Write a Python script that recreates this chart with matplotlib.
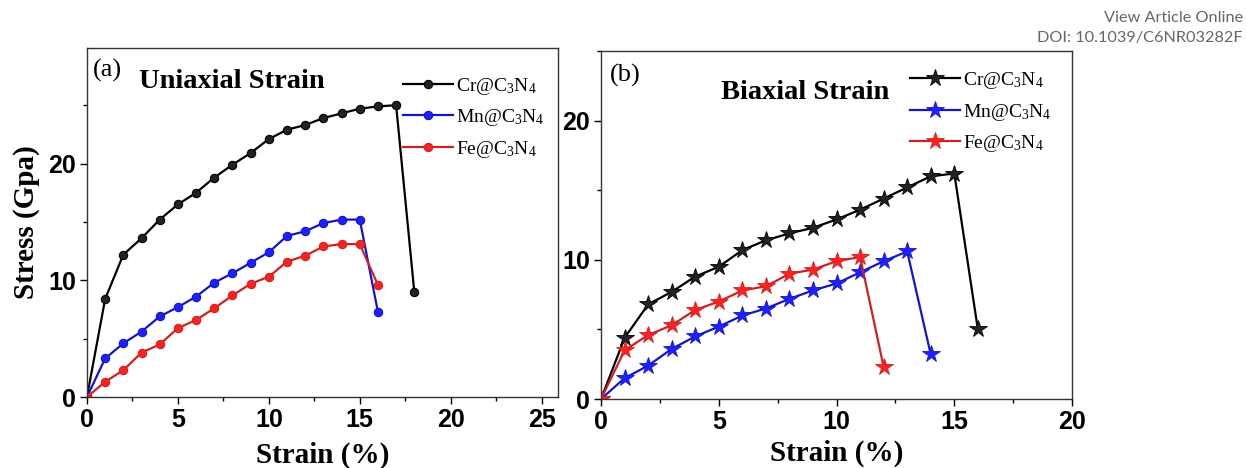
import matplotlib.pyplot as plt
from matplotlib.ticker import MultipleLocator

plt.rcParams['mathtext.fontset'] = 'custom'
plt.rcParams['mathtext.rm'] = 'Liberation Serif'
plt.rcParams['mathtext.it'] = 'Liberation Serif:italic'
plt.rcParams['mathtext.bf'] = 'Liberation Serif:bold'
plt.rcParams['mathtext.default'] = 'rm'

# (a) uniaxial strain
uni_cr_x = list(range(0, 19))
uni_cr_y = [0, 8.4, 12.2, 13.6, 15.2, 16.5, 17.5, 18.8, 19.9, 20.9, 22.1, 22.9,
            23.3, 23.9, 24.3, 24.7, 24.9, 25.0, 9.0]
uni_mn_x = list(range(0, 17))
uni_mn_y = [0, 3.3, 4.6, 5.6, 6.9, 7.7, 8.6, 9.8, 10.6, 11.5, 12.4, 13.8, 14.2,
            14.9, 15.2, 15.2, 7.3]
uni_fe_x = list(range(0, 17))
uni_fe_y = [0, 1.3, 2.3, 3.8, 4.5, 5.9, 6.6, 7.6, 8.7, 9.7, 10.3, 11.6, 12.1,
            12.9, 13.1, 13.1, 9.6]

# (b) biaxial strain
bi_cr_x = list(range(0, 17))
bi_cr_y = [0, 4.4, 6.8, 7.7, 8.8, 9.5, 10.7, 11.4, 11.9, 12.3, 12.9, 13.6, 14.4,
           15.2, 16.0, 16.2, 5.0]
bi_mn_x = list(range(0, 15))
bi_mn_y = [0, 1.5, 2.4, 3.6, 4.5, 5.2, 6.0, 6.5, 7.2, 7.8, 8.3, 9.1, 9.9, 10.6, 3.2]
bi_fe_x = list(range(0, 13))
bi_fe_y = [0, 3.5, 4.6, 5.3, 6.4, 7.0, 7.8, 8.1, 9.0, 9.3, 9.9, 10.2, 2.3]

labels = ['Cr@C$_3$N$_4$', 'Mn@C$_3$N$_4$', 'Fe@C$_3$N$_4$']
line_colors = ['black', '#1414c8', '#cc2222']
mark_colors = ['#222222', '#2020ff', '#ff2020']

serif = 'Liberation Serif'
sans = 'Liberation Sans'

fig = plt.figure(figsize=(12.46, 4.68), dpi=100)
ax1 = fig.add_axes([0.0698, 0.1517, 0.378, 0.7457])
ax2 = fig.add_axes([0.4824, 0.1474, 0.378, 0.7436])

series_a = [(uni_cr_x, uni_cr_y), (uni_mn_x, uni_mn_y), (uni_fe_x, uni_fe_y)]
series_b = [(bi_cr_x, bi_cr_y), (bi_mn_x, bi_mn_y), (bi_fe_x, bi_fe_y)]

for (x, y), lab, lc, mc in zip(series_a, labels, line_colors, mark_colors):
    ax1.plot(x, y, color=lc, lw=1.6, marker='o', ms=6, mfc=mc, mec=lc,
             mew=0.8, label=lab)
for (x, y), lab, lc, mc in zip(series_b, labels, line_colors, mark_colors):
    ax2.plot(x, y, color=lc, lw=1.6, marker='*', ms=13, mfc=mc, mec=lc,
             mew=0.6, label=lab)

ax1.set_xlim(0, 25.9)
ax1.set_ylim(0, 29.9)
ax2.set_xlim(0, 20)
ax2.set_ylim(0, 25)

for ax in (ax1, ax2):
    ax.xaxis.set_major_locator(MultipleLocator(5))
    ax.xaxis.set_minor_locator(MultipleLocator(2.5))
    ax.yaxis.set_major_locator(MultipleLocator(10))
    ax.yaxis.set_minor_locator(MultipleLocator(5))
    ax.tick_params(which='major', direction='out', length=5, width=1, pad=3)
    ax.tick_params(which='minor', direction='out', length=3, width=1)
    for t in ax.get_xticklabels() + ax.get_yticklabels():
        t.set_fontfamily(sans)
        t.set_fontweight('bold')
        t.set_fontsize(18)
    for s in ax.spines.values():
        s.set_color('#333333')
        s.set_linewidth(1)

ax1.set_xlabel('Strain (%)', fontfamily=serif, fontweight='bold',
               fontsize=21, labelpad=7)
ax2.set_xlabel('Strain (%)', fontfamily=serif, fontweight='bold',
               fontsize=21, labelpad=4)

ax1.legend(loc='upper right', bbox_to_anchor=(1.0, 0.96), frameon=False,
           prop={'family': serif, 'size': 14}, handlelength=2.6,
           handletextpad=0.15, labelspacing=0.55, borderaxespad=0.3)
ax2.legend(loc='upper right', bbox_to_anchor=(0.985, 0.985), frameon=False,
           prop={'family': serif, 'size': 14}, handlelength=2.6,
           handletextpad=0.15, labelspacing=0.55, borderaxespad=0.3)

ax1.set_ylabel('Stress (Gpa)', fontfamily=serif, fontweight='bold',
               fontsize=21, labelpad=6)

ax1.text(0.012, 0.97, '(a)', transform=ax1.transAxes, fontfamily=serif,
         fontsize=19, va='top', ha='left')
ax1.text(0.11, 0.905, 'Uniaxial Strain', transform=ax1.transAxes,
         fontfamily=serif, fontweight='bold', fontsize=20.5, va='center',
         ha='left')
ax2.text(0.018, 0.962, '(b)', transform=ax2.transAxes, fontfamily=serif,
         fontsize=19, va='top', ha='left')
ax2.text(0.255, 0.88, 'Biaxial Strain', transform=ax2.transAxes,
         fontfamily=serif, fontweight='bold', fontsize=20.5, va='center',
         ha='left')

fig.text(0.9975, 0.962, 'View Article Online', fontfamily='Lato',
         fontsize=11.7, color='#666666', ha='right', va='center')
fig.text(0.9975, 0.918, 'DOI: 10.1039/C6NR03282F', fontfamily='Lato',
         fontsize=11.7, color='#666666', ha='right', va='center')

fig.savefig('out.png', dpi=100)
